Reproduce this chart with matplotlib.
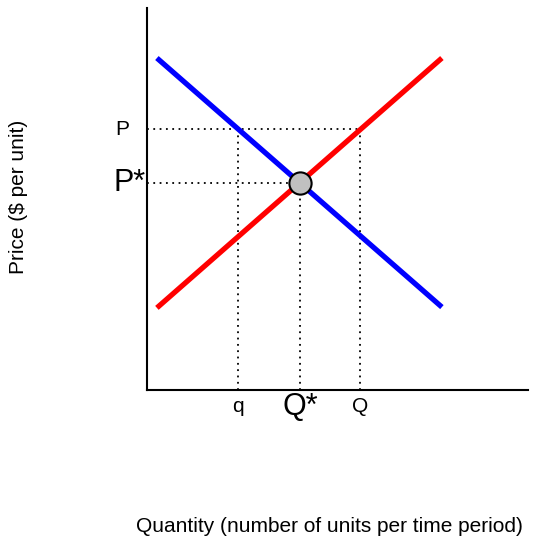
import matplotlib
matplotlib.use("Agg")
import matplotlib.pyplot as plt
import matplotlib.transforms as mtransforms

plt.rcParams["font.family"] = ["Liberation Sans", "DejaVu Sans"]

# Supply / demand lines (quantity, price)
demand_q = [0.26, 7.74]
demand_p = [8.69, 2.17]
supply_q = [0.26, 7.74]
supply_p = [2.15, 8.69]

# Equilibrium and the higher price P
eq_q, eq_p = 4.02, 5.42
high_p = 6.83
q_low, q_high = 2.39, 5.59

x_labels = ["q", "Q*", "Q"]
x_label_pos = [q_low, eq_q, q_high]
x_label_size = [15, 22, 15]

fig = plt.figure(figsize=(5.34, 5.40), dpi=100)
ax = fig.add_axes([147 / 534, 1 - 390 / 540, 381 / 534, 382 / 540])
ax.set_xlim(0, 10)
ax.set_ylim(0, 10)
ax.set_facecolor("none")

for side in ["top", "right"]:
    ax.spines[side].set_visible(False)
for side in ["left", "bottom"]:
    ax.spines[side].set_linewidth(1.5)
ax.set_xticks([])
ax.set_yticks([])

dots = dict(color="black", linestyle=(0, (1, 2.5)), linewidth=1.3)
ax.plot([0, q_high], [high_p, high_p], **dots)
ax.plot([0, eq_q], [eq_p, eq_p], **dots)
for xq, top in zip([q_low, eq_q, q_high], [high_p, eq_p, high_p]):
    ax.plot([xq, xq], [0, top], **dots)

ax.plot(demand_q, demand_p, color="#0000ff", linewidth=3.8, solid_capstyle="butt")
ax.plot(supply_q, supply_p, color="#ff0000", linewidth=3.8, solid_capstyle="butt")
ax.plot([eq_q], [eq_p], "o", markersize=16, markerfacecolor="#c0c0c0",
        markeredgecolor="black", markeredgewidth=1.5, zorder=5)

# Price labels on the left
ytrans = mtransforms.blended_transform_factory(fig.transFigure, ax.transData)
ax.text(122 / 534, high_p, "P", transform=ytrans, fontsize=15,
        ha="center", va="center")
ax.text(146 / 534, eq_p, "P*", transform=ytrans, fontsize=22,
        ha="right", va="center")

# Quantity labels below the axis
xtrans = mtransforms.blended_transform_factory(ax.transData, fig.transFigure)
for lab, xq, fs in zip(x_labels, x_label_pos, x_label_size):
    ax.text(xq, 1 - 407 / 540, lab, transform=xtrans, fontsize=fs,
            ha="center", va="center")

fig.text(19 / 534, 1 - 197 / 540, "Price ($ per unit)", rotation=90,
         fontsize=15, ha="center", va="center")
fig.text(329 / 534, 1 - 527 / 540, "Quantity (number of units per time period)",
         fontsize=15, ha="center", va="center")

fig.savefig("out.png", dpi=100)
